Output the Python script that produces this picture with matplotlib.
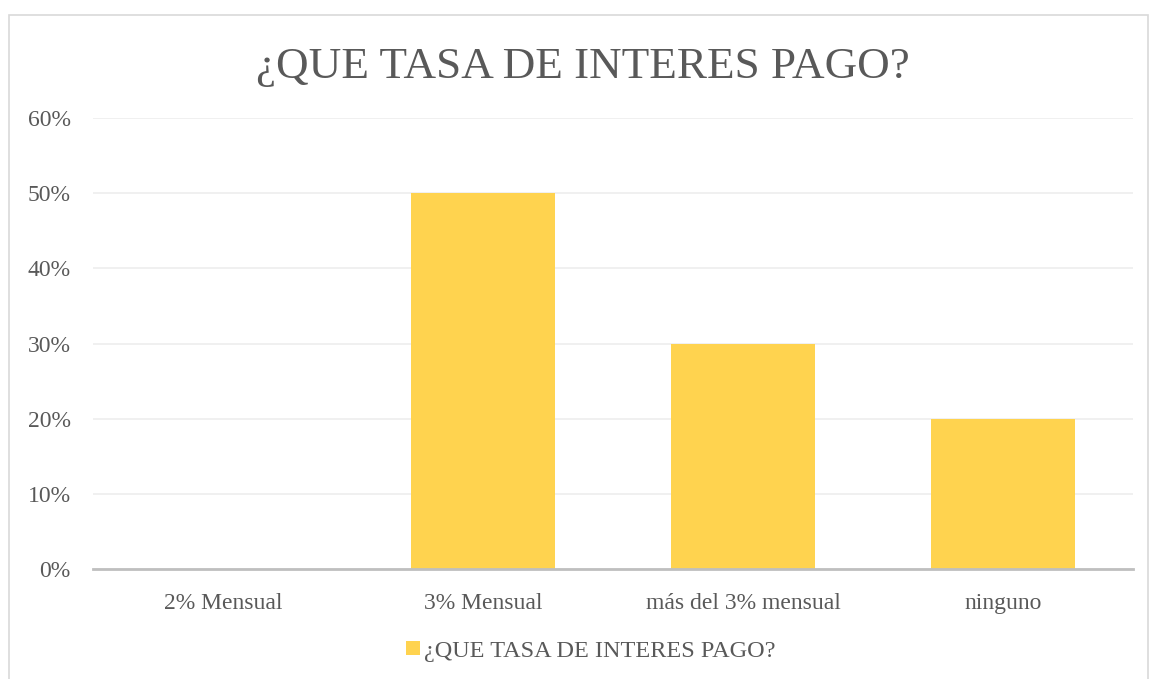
import numpy as np
import matplotlib.pyplot as plt
from matplotlib.patches import Rectangle

categories = ['2% Mensual', '3% Mensual', 'más del 3% mensual', 'ninguno']
values = [0.0, 0.50, 0.30, 0.20]
series_name = '¿QUE TASA DE INTERES PAGO?'
yticks = [0, 0.1, 0.2, 0.3, 0.4, 0.5, 0.6]

plt.rcParams['font.family'] = ['Liberation Serif', 'DejaVu Serif']
text_color = '#595959'

fig = plt.figure(figsize=(11.5, 6.79), dpi=100)
# chart frame
fig.patches.append(Rectangle((9 / 1150, -0.01), 1139 / 1150, 1 - 15 / 679 + 0.01,
                             transform=fig.transFigure, fill=False,
                             edgecolor='#D9D9D9', linewidth=1.2))

ax = fig.add_axes([93 / 1150, 110 / 679, 1040 / 1150, 451 / 679])
x = np.arange(len(categories))
ax.bar(x, values, width=0.555, color='#FFD34F', label=series_name, zorder=3)

ax.set_xlim(-0.5, len(categories) - 0.5)
ax.set_ylim(0, 0.6)
ax.set_yticks(yticks)
ax.set_yticklabels([f'{int(round(t * 100))}%' for t in yticks])
ax.set_xticks(x)
ax.set_xticklabels(categories)
ax.grid(axis='y', color='#EDEDED', linewidth=1.2, zorder=0)
for s in ['top', 'right', 'left']:
    ax.spines[s].set_visible(False)
ax.spines['bottom'].set_color('#BFBFBF')
ax.spines['bottom'].set_linewidth(2)
ax.spines['bottom'].set_zorder(4)
ax.tick_params(axis='both', length=0, labelsize=17, colors=text_color)
ax.tick_params(axis='y', pad=16)
ax.tick_params(axis='x', pad=17)

fig.text(583 / 1150, 1 - 67 / 679, series_name, ha='center', va='center',
         fontsize=32.5, color=text_color)

leg = fig.legend(loc='center', bbox_to_anchor=(591 / 1150, 1 - 651 / 679),
                 frameon=False, fontsize=17.5, handlelength=0.55, handleheight=0.55,
                 handletextpad=0.2)
for t in leg.get_texts():
    t.set_color(text_color)

fig.savefig('out.png', dpi=100)
